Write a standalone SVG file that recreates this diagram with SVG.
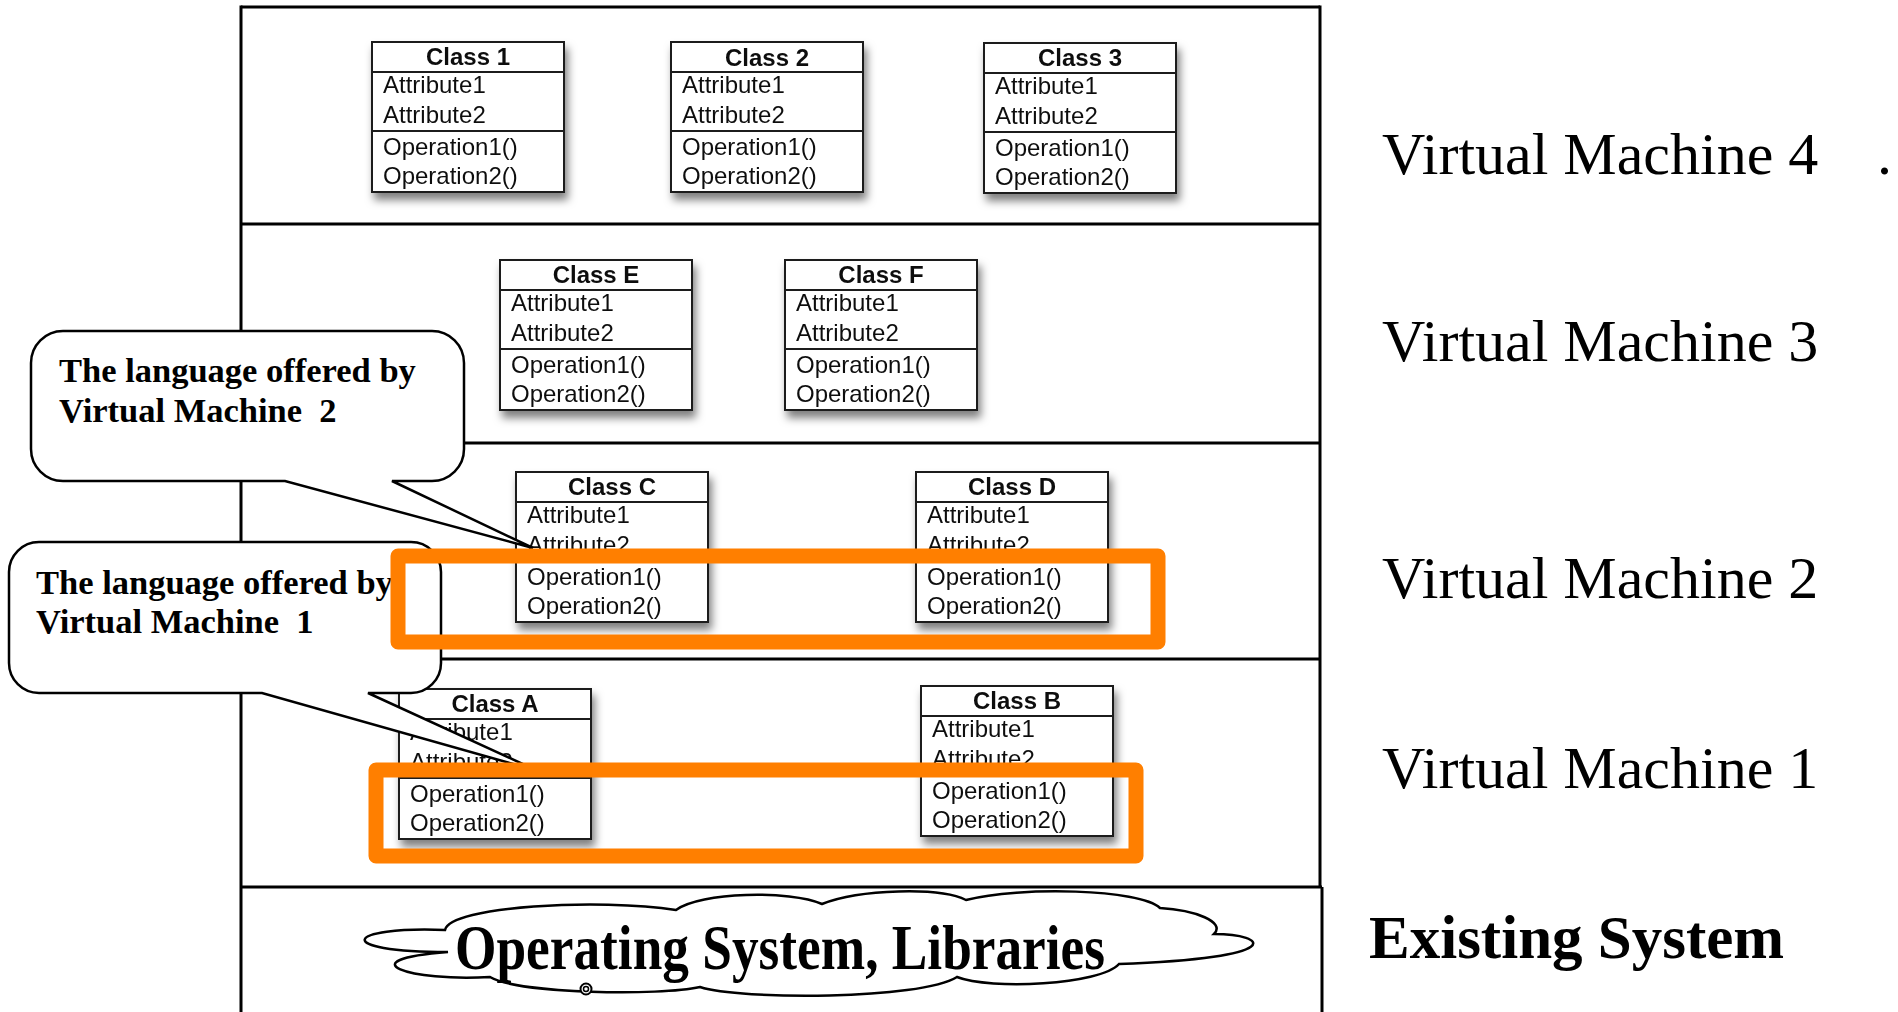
<svg xmlns="http://www.w3.org/2000/svg" width="1898" height="1012" viewBox="0 0 1898 1012">
<style>
.frame{stroke:#000;stroke-width:3;fill:none}
.box{fill:#fff;stroke:#1a1a1a;stroke-width:2}
.div{stroke:#1a1a1a;stroke-width:2}
.ct{font-family:"Liberation Sans",Arial,sans-serif;font-size:24px;font-weight:bold;text-anchor:middle;fill:#111}
.ca{font-family:"Liberation Sans",Arial,sans-serif;font-size:24px;fill:#111}
.bubble{fill:#fff;stroke:#000;stroke-width:2.5;stroke-linejoin:miter}
.bt{font-family:"Liberation Serif","Times New Roman",serif;font-weight:bold;font-size:34.5px;white-space:pre;fill:#000}
.vm{font-family:"Liberation Serif","Times New Roman",serif;font-size:60px;fill:#000}
.hl{fill:none;stroke:#FF7F00;stroke-width:15;stroke-linejoin:round}
</style>
<defs>
<filter id="sh" x="-20%" y="-20%" width="150%" height="150%">
<feDropShadow dx="3" dy="7" stdDeviation="4" flood-color="#000" flood-opacity="0.5"/>
</filter>
<g id="classbody">
<rect class="box" x="0" y="0" width="192" height="150"/>
<line class="div" x1="0" y1="30" x2="192" y2="30"/>
<line class="div" x1="0" y1="89" x2="192" y2="89"/>
<text class="ca" x="11" y="51">Attribute1</text>
<text class="ca" x="11" y="81">Attribute2</text>
<text class="ca" x="11" y="113">Operation1()</text>
<text class="ca" x="11" y="142">Operation2()</text>
</g>
</defs>
<rect x="0" y="0" width="1898" height="1012" fill="#fff"/>

<g id="frame" class="frame">
<line x1="241" y1="7" x2="1320" y2="7"/>
<line x1="241" y1="5.5" x2="241" y2="1012"/>
<line x1="1320" y1="5.5" x2="1320" y2="888"/>
<line x1="1322" y1="887" x2="1322" y2="1012"/>
<line x1="241" y1="224" x2="1320" y2="224"/>
<line x1="241" y1="443" x2="1320" y2="443"/>
<line x1="241" y1="659" x2="1320" y2="659"/>
<line x1="241" y1="887" x2="1322" y2="887"/>
</g>

<g id="class-1" transform="translate(372,42)" filter="url(#sh)"><use href="#classbody"/><text class="ct" x="96" y="23">Class 1</text></g>
<g id="class-2" transform="translate(671,42)" filter="url(#sh)"><use href="#classbody"/><text class="ct" x="96" y="24">Class 2</text></g>
<g id="class-3" transform="translate(984,43)" filter="url(#sh)"><use href="#classbody"/><text class="ct" x="96" y="23">Class 3</text></g>
<g id="class-e" transform="translate(500,260)" filter="url(#sh)"><use href="#classbody"/><text class="ct" x="96" y="23">Class E</text></g>
<g id="class-f" transform="translate(785,260)" filter="url(#sh)"><use href="#classbody"/><text class="ct" x="96" y="23">Class F</text></g>
<g id="class-c" transform="translate(516,472)" filter="url(#sh)"><use href="#classbody"/><text class="ct" x="96" y="23">Class C</text></g>
<g id="class-d" transform="translate(916,472)" filter="url(#sh)"><use href="#classbody"/><text class="ct" x="96" y="23">Class D</text></g>
<g id="class-a" transform="translate(399,689)" filter="url(#sh)"><use href="#classbody"/><text class="ct" x="96" y="23">Class A</text></g>
<g id="class-b" transform="translate(921,686)" filter="url(#sh)"><use href="#classbody"/><text class="ct" x="96" y="23">Class B</text></g>

<g id="os-cloud">
<path d="M445,930 C450,906 600,898 676,910 C700,892 790,890 822,904 C860,889 940,887 966,900 C1020,886 1140,889 1160,908 C1195,910 1226,922 1214,934 C1268,934 1290,958 1119,964 C1100,985 990,990 957,977 C920,1000 740,1000 700,987 C660,996 520,994 490,977 C410,982 345,960 448,952 C330,952 345,926 445,930 Z" fill="#fff" stroke="#000" stroke-width="2.5"/>
<circle cx="586" cy="989" r="5.5" fill="#fff" stroke="#000" stroke-width="2"/>
<circle cx="586" cy="989" r="2.5" fill="none" stroke="#000" stroke-width="1.5"/>
<text x="455" y="969" textLength="650" lengthAdjust="spacingAndGlyphs" style="font-family:'Liberation Serif','Times New Roman',serif;font-weight:bold;font-size:64px">Operating System, Libraries</text>
</g>

<g id="connectors"></g>

<g id="callout-vm2">
<path class="bubble" d="M63,331 H432 A32,32 0 0 1 464,363 V449 A32,32 0 0 1 432,481 H392 L533,548 L285,481 H63 A32,32 0 0 1 31,449 V363 A32,32 0 0 1 63,331 Z"/>
<text class="bt" x="59" y="382">The language offered by</text>
<text class="bt" x="59" y="422">Virtual Machine  2</text>
</g>

<g id="callout-vm1">
<path class="bubble" d="M39,542 H411 A30,30 0 0 1 441,572 V663 A30,30 0 0 1 411,693 H368 L538,771 L262,693 H39 A30,30 0 0 1 9,663 V572 A30,30 0 0 1 39,542 Z"/>
<text class="bt" x="36" y="594">The language offered by</text>
<text class="bt" x="36" y="633">Virtual Machine  1</text>
</g>

<g id="highlight-vm2"><rect class="hl" x="398" y="556" width="760" height="86"/></g>
<g id="highlight-vm1"><rect class="hl" x="376" y="770" width="760" height="86"/></g>

<g id="labels">
<text id="label-vm4" class="vm" x="1382" y="174">Virtual Machine 4</text>
<text class="vm" x="1877" y="174">.</text>
<text id="label-vm3" class="vm" x="1382" y="361">Virtual Machine 3</text>
<text id="label-vm2" class="vm" x="1382" y="598">Virtual Machine 2</text>
<text id="label-vm1" class="vm" x="1382" y="788">Virtual Machine 1</text>
<text id="label-existing" x="1369" y="958" style="font-family:'Liberation Serif','Times New Roman',serif;font-weight:bold;font-size:61px">Existing System</text>
</g>
</svg>
